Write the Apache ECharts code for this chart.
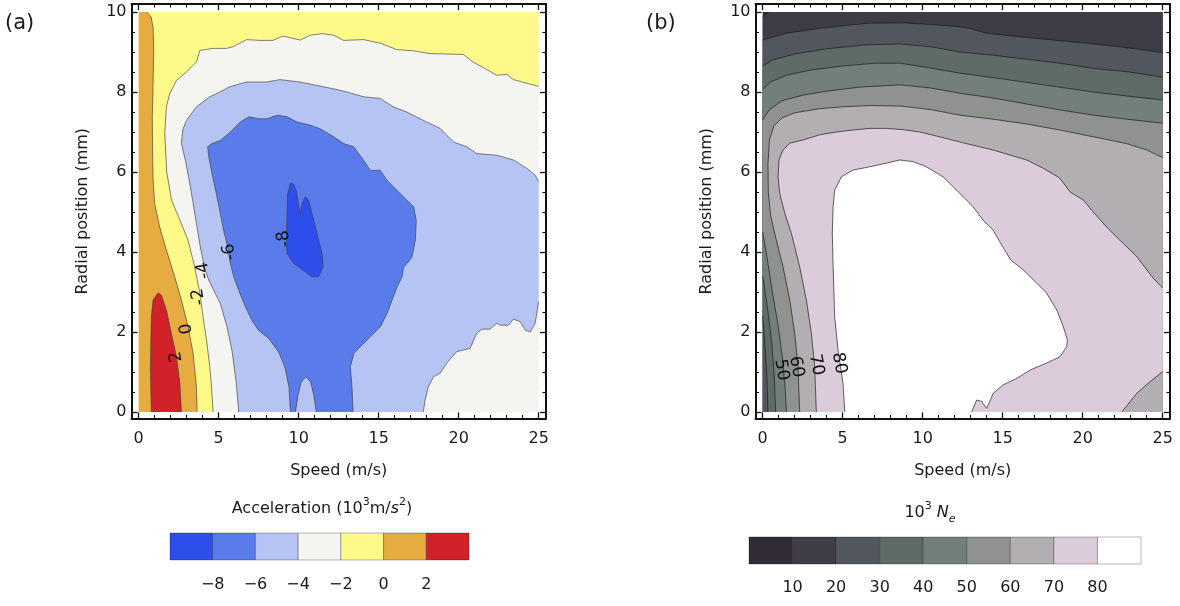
<!DOCTYPE html>
<html><head><meta charset="utf-8">
<script src="https://cdn.jsdelivr.net/npm/echarts@6/dist/echarts.min.js"></script>
<style>html,body{margin:0;padding:0;background:#fff}#c{width:1180px;height:606px}</style>
</head><body><div id="c"></div>
<script>
const FONT = 'DejaVu Sans';
const TXT = '#1a1a1a';
// ---- axis ticks ----
const speedMajor = [0,5,10,15,20,25];
const speedMinor = [1,2,3,4,6,7,8,9,11,12,13,14,16,17,18,19,21,22,23,24];
const radialMajor = [0,2,4,6,8,10];
const radialMinor = [0.5,1,1.5,2.5,3,3.5,4.5,5,5.5,6.5,7,7.5,8.5,9,9.5];

// ---- panel (a): acceleration contours (speed m/s, radial mm) ----
const accContourM2 = [[4.65,0],[4.55,0.63],[4.44,1.13],[4.24,1.8],[4.02,2.38],[3.82,2.97],[3.5,3.63],[3.08,4.3],[2.57,4.8],[2.05,5.3],[1.75,6.0],[1.63,6.97],[1.73,7.63],[1.94,7.96],[2.36,8.29],[2.98,8.5],[3.61,8.75],[3.82,9.04],[4.65,9.09],[5.49,9.09],[5.88,9.13],[6.74,9.31],[7.57,9.29],[8.39,9.29],[9.01,9.4],[9.64,9.34],[10.1,9.3],[10.73,9.42],[11.46,9.46],[12.19,9.42],[12.81,9.29],[14.06,9.31],[15.1,9.22],[16.13,9.06],[17.16,9.03],[18.21,8.96],[20.28,8.94],[20.9,8.75],[22.38,8.42],[23.01,8.44],[23.42,8.31],[25,8.14]];
const accContour0 = [[3.65,0],[3.61,0.63],[3.4,1.47],[3.09,2.13],[2.67,2.8],[2.25,3.38],[1.73,4.05],[1.31,4.63],[1.0,5.2],[0.9,5.8],[0.87,6.5],[0.85,7.37],[0.9,8.21],[0.94,9.04],[0.9,9.62],[0.77,9.88],[0.5,10]];
const accContour2 = [[0.79,0],[0.73,1.13],[0.79,2.38],[0.9,2.8],[1.21,2.98],[1.42,2.92],[1.73,2.55],[2.04,1.97],[2.36,1.38],[2.57,0.72],[2.67,0]];
const accContourM4a = [[6.25,0],[6.1,0.71],[5.83,1.54],[5.52,2.13],[5.1,2.71],[4.69,3.04],[4.38,3.29],[4.1,3.63],[3.85,4.13],[3.54,4.88],[3.23,5.63],[2.92,6.29],[2.67,6.71],[2.75,7.05],[2.98,7.29],[3.61,7.63],[4.44,7.88],[5.07,8.0],[5.69,8.13],[6.74,8.25],[7.99,8.25],[8.82,8.31],[9.45,8.28],[10.08,8.25],[11.56,8.13],[12.4,8.06],[13.02,8.0],[14.06,7.88],[15.08,7.84],[15.91,7.63],[16.75,7.5],[17.79,7.29],[18.84,7.09],[19.67,6.75],[20.51,6.63],[21.13,6.46],[22.38,6.42],[23.42,6.3],[24.26,6.09],[24.78,5.92],[25,5.75]];
const accContourM4b = [[25,2.76],[24.78,2.22],[24.47,2.0],[24.16,2.05],[23.84,2.26],[23.42,2.32],[23.11,2.17],[22.59,2.17],[22.38,2.22],[21.96,2.07],[21.45,2.07],[21.13,1.97],[20.71,1.59],[20.29,1.55],[19.88,1.51],[19.25,1.22],[18.84,0.97],[18.42,0.88],[18.1,0.63],[17.9,0.3],[17.79,0]];
const accContourM6 = [[9.48,0],[9.4,0.6],[9.15,1.1],[8.75,1.5],[8.1,1.85],[7.5,2.04],[7.08,2.29],[6.67,2.63],[6.25,3.04],[5.94,3.38],[5.73,3.71],[5.56,4.13],[5.35,4.46],[5.1,4.96],[4.85,5.46],[4.58,5.96],[4.38,6.38],[4.31,6.63],[4.58,6.71],[5.1,6.79],[5.73,7.0],[6.35,7.25],[6.88,7.38],[7.5,7.33],[8.02,7.33],[8.65,7.42],[9.27,7.38],[9.9,7.25],[10.73,7.17],[11.35,7.08],[12.19,6.88],[12.81,6.71],[13.44,6.63],[14.06,6.29],[14.48,6.04],[15.1,6.04],[15.52,5.79],[16.15,5.54],[16.77,5.29],[17.19,5.13],[17.35,4.79],[17.29,4.29],[17.08,3.88],[16.77,3.71],[16.56,3.63],[16.46,3.38],[16.15,3.13],[15.83,2.79],[15.52,2.46],[15.1,2.13],[14.48,1.88],[13.85,1.63],[13.44,1.46],[13.23,1.13],[13.33,0.63],[13.4,0],[11.1,0],[10.95,0.4],[10.75,0.75],[10.45,0.88],[10.15,0.75],[9.95,0.4],[9.8,0]];
const accContourM8 = [[9.48,5.71],[9.31,5.46],[9.27,4.88],[9.23,4.46],[9.27,3.96],[9.69,3.71],[10.31,3.54],[10.83,3.38],[11.25,3.38],[11.52,3.63],[11.46,3.96],[11.25,4.29],[11.04,4.63],[10.83,4.96],[10.63,5.29],[10.42,5.38],[10.21,5.21],[10.1,4.96],[10.0,5.13],[9.85,5.54],[9.65,5.71]];
const accLabelPos = [[9.1,4.33],[5.69,4.0],[4.06,3.54],[3.75,2.88],[2.98,2.08],[2.35,1.38]];
const accLabelText = ['-8','-6','-4','-2','0','2'];
const accLevels = [-10,-8,-6,-4,-2,0,2,4];
const accTickLabels = [-8,-6,-4,-2,0,2];
const accColors = ['#2e4eec','#5a7bea','#b5c4f3','#f4f5f0','#fdfa8a','#e6ab41','#d22229'];

// ---- panel (b): 10^3 Ne contours ----
const neContour10 = [[0.35,10],[0,9.88]];
const neContour20 = [[0,9.3],[1.48,9.47],[3.56,9.59],[5.5,9.68],[6.69,9.72],[8.77,9.73],[10.85,9.68],[12.33,9.63],[12.94,9.59],[13.98,9.47],[16.06,9.38],[18.15,9.3],[20.23,9.22],[22.31,9.13],[24.4,9.02],[25,8.98]];
const neContour30 = [[0,8.65],[0.6,8.8],[2,8.95],[4,9.08],[6.5,9.18],[8.6,9.2],[10.5,9.13],[12.33,9.0],[14.41,8.92],[16.5,8.82],[18.58,8.72],[20.66,8.59],[22.75,8.51],[25,8.37]];
const neContour30b = [[0,2.4],[0.15,1.6],[0.27,0.8],[0.33,0]];
const neContour40 = [[0,8.07],[0.5,8.25],[1.5,8.42],[3,8.55],[5,8.65],[7,8.72],[8.6,8.72],[10.5,8.6],[12.33,8.47],[14.41,8.36],[16.5,8.24],[18.58,8.12],[20.66,8.0],[22.75,7.9],[25,7.8]];
const neContour40b = [[0,3.4],[0.3,2.6],[0.55,1.8],[0.72,0.9],[0.81,0]];
const neContour50 = [[0,7.3],[0.4,7.55],[1.2,7.78],[2.5,7.92],[4,8.02],[6,8.12],[8.6,8.18],[10.5,8.1],[12.33,7.97],[14.4,7.85],[16.5,7.7],[18.6,7.55],[20.7,7.42],[22.75,7.32],[25,7.22]];
const neContour50b = [[0,4.5],[0.3,3.8],[0.6,3.0],[0.95,2.2],[1.25,1.3],[1.4,0.6],[1.48,0]];
const neContour60 = [[2.31,0],[2.21,1.13],[2.0,1.97],[1.69,2.8],[1.27,3.63],[0.85,4.3],[0.5,4.9],[0.35,5.5],[0.33,6.2],[0.42,6.8],[0.7,7.15],[1.2,7.35],[2,7.48],[3.5,7.58],[5,7.63],[6.7,7.66],[8.6,7.65],[10.5,7.56],[12.33,7.42],[14.41,7.32],[16.5,7.2],[18.58,7.05],[20.66,6.88],[22.75,6.71],[24,6.55],[25,6.36]];
const neContour70 = [[3.35,0],[3.25,1.13],[3.04,1.97],[2.73,2.8],[2.31,3.63],[1.79,4.47],[1.38,4.97],[1.06,5.47],[0.96,5.88],[1.02,6.3],[1.27,6.55],[1.69,6.72],[2.52,6.8],[3.56,6.93],[4.6,7.0],[5.65,7.05],[6.69,7.09],[7.73,7.09],[8.77,7.06],[9.81,7.0],[11.06,6.88],[12.31,6.75],[13.56,6.63],[14.4,6.55],[15.65,6.4],[16.5,6.3],[17.5,6.1],[18.56,5.85],[19.21,5.5],[20.04,5.3],[20.66,5.0],[21.48,4.63],[22.31,4.3],[23.35,3.9],[24.4,3.35],[25,3.1]];
const neContour70b = [[22.44,0],[23.38,0.47],[24.21,0.76],[25,1.01]];
const neContour80 = [[5.13,0],[5.02,0.72],[4.71,1.55],[4.5,2.38],[4.4,3.63],[4.35,4.47],[4.4,5.13],[4.5,5.55],[4.92,5.88],[5.65,6.05],[6.69,6.13],[7.73,6.22],[8.56,6.3],[9.4,6.26],[10.23,6.13],[11.27,5.88],[12.31,5.47],[13.15,5.13],[13.77,4.8],[14.4,4.55],[14.9,4.2],[15.5,3.8],[16.29,3.55],[17.13,3.22],[17.75,2.97],[18.38,2.55],[18.79,2.13],[19.04,1.8],[19.0,1.63],[18.58,1.38],[17.73,1.22],[16.71,1.05],[15.88,0.84],[15.04,0.68],[14.41,0.47],[14.0,0.09],[13.69,0.26],[13.37,0.3],[13.06,0]];
const neLabelPos = [[1.17,1.05],[2.1,1.13],[3.35,1.18],[4.77,1.22]];
const neLabelText = ['50','60','70','80'];
const neLevels = [0,10,20,30,40,50,60,70,80,90];
const neTickLabels = [10,20,30,40,50,60,70,80];
const neColors = ['#312c35','#3e3c46','#52565e','#5e6b66','#737f79','#8f928f','#b3aeb1','#dccbdb','#ffffff'];

// ---- helpers ----
const XMIN=0, XMAX=25, YMIN=0, YMAX=10;
const rev = a => a.slice().reverse();
const onEdge = (a,b) => (a[0]<=XMIN&&b[0]<=XMIN)||(a[0]>=XMAX&&b[0]>=XMAX)||(a[1]<=YMIN&&b[1]<=YMIN)||(a[1]>=YMAX&&b[1]>=YMAX);

function region(panel, pts, fill, lineColor){
  return {
    type:'custom', xAxisIndex: panel*4, yAxisIndex: panel*4, data: pts, silent:true, clip:true, animation:false,
    encode:{x:0,y:1},
    renderItem(params, api){
      if (params.dataIndex !== 0) return null;
      const n = pts.length;
      const px = pts.map(p => api.coord(p));
      const children = [{type:'polygon', shape:{points:px}, style:{fill:fill, stroke:null}}];
      let run = null;
      for (let i=0;i<n;i++){
        const a = pts[i], b = pts[(i+1)%n];
        if (onEdge(a,b)) { if (run){ children.push(line(run)); run=null; } continue; }
        if (!run) run=[px[i]];
        run.push(px[(i+1)%n]);
      }
      if (run) children.push(line(run));
      function line(r){ return {type:'polyline', shape:{points:r}, style:{stroke:lineColor, lineWidth:0.8, fill:null}}; }
      return {type:'group', children};
    }
  };
}
function labels(panel, pos, texts, rotDeg){
  return {
    type:'custom', xAxisIndex: panel*4, yAxisIndex: panel*4, data: pos, silent:true, animation:false, z:5,
    encode:{x:0,y:1},
    renderItem(params, api){
      const p = api.coord([api.value(0), api.value(1)]);
      return {type:'text', x:p[0], y:p[1], rotation: rotDeg*Math.PI/180,
        style:{text:texts[params.dataIndex], x:0, y:0, align:'center', verticalAlign:'middle', textAlign:'center', textVerticalAlign:'middle', font:`17px "${FONT}"`, fill:'#111'}};
    }
  };
}
function colorbar(axisIdx, levels, colors){
  const data = colors.map((c,i)=>[levels[i], levels[i+1], i]);
  return {
    type:'custom', xAxisIndex: axisIdx, yAxisIndex: axisIdx, data, silent:true, animation:false,
    encode:{x:[0,1]},
    renderItem(params, api){
      const p0 = api.coord([api.value(0), 1]);
      const p1 = api.coord([api.value(1), 0]);
      return {type:'rect', shape:{x:p0[0], y:p0[1], width:p1[0]-p0[0], height:p1[1]-p0[1]},
        style:{fill: colors[api.value(2)], stroke:'rgba(0,0,0,0.28)', lineWidth:1}};
    }
  };
}
const tickStyle = w => ({color:'#111', width:w});
function xAxesFor(g){
  const c = {gridIndex:g, type:'value', min:-0.45, max:25.45, splitLine:{show:false}};
  return [
    {...c, position:'bottom', name:'Speed (m/s)', nameLocation:'middle', nameGap:44,
      nameTextStyle:{fontFamily:FONT, fontSize:16, color:TXT},
      axisLine:{show:true, onZero:false, lineStyle:tickStyle(2)},
      axisTick:{show:true, inside:true, length:6, customValues:speedMajor, lineStyle:tickStyle(1.3)},
      axisLabel:{show:true, customValues:speedMajor, margin:12, fontFamily:FONT, fontSize:16, color:TXT}},
    {...c, position:'bottom', axisLine:{show:false, onZero:false},
      axisTick:{show:true, inside:true, length:3.5, customValues:speedMinor, lineStyle:tickStyle(1.1)}, axisLabel:{show:false}},
    {...c, position:'top', axisLine:{show:true, onZero:false, lineStyle:tickStyle(2)},
      axisTick:{show:true, inside:true, length:6, customValues:speedMajor, lineStyle:tickStyle(1.3)}, axisLabel:{show:false}},
    {...c, position:'top', axisLine:{show:false, onZero:false},
      axisTick:{show:true, inside:true, length:3.5, customValues:speedMinor, lineStyle:tickStyle(1.1)}, axisLabel:{show:false}}
  ];
}
function yAxesFor(g){
  const c = {gridIndex:g, type:'value', min:-0.16, max:10.2, splitLine:{show:false}};
  return [
    {...c, position:'left', name:'Radial position (mm)', nameLocation:'middle', nameGap:41,
      nameTextStyle:{fontFamily:FONT, fontSize:16, color:TXT},
      axisLine:{show:true, onZero:false, lineStyle:tickStyle(2)},
      axisTick:{show:true, inside:true, length:6, customValues:radialMajor, lineStyle:tickStyle(1.3)},
      axisLabel:{show:true, customValues:radialMajor, margin:5, fontFamily:FONT, fontSize:16, color:TXT}},
    {...c, position:'left', axisLine:{show:false, onZero:false},
      axisTick:{show:true, inside:true, length:3.5, customValues:radialMinor, lineStyle:tickStyle(1.1)}, axisLabel:{show:false}},
    {...c, position:'right', axisLine:{show:true, onZero:false, lineStyle:tickStyle(2)},
      axisTick:{show:true, inside:true, length:6, customValues:radialMajor, lineStyle:tickStyle(1.3)}, axisLabel:{show:false}},
    {...c, position:'right', axisLine:{show:false, onZero:false},
      axisTick:{show:true, inside:true, length:3.5, customValues:radialMinor, lineStyle:tickStyle(1.1)}, axisLabel:{show:false}}
  ];
}
const fmtMinus = v => String(v).replace('-', '\u2212');

const A_LINE = 'rgba(60,60,60,0.8)';
const B_LINE = 'rgba(25,25,25,0.85)';
const full = [[0,0],[25,0],[25,10],[0,10]];

const series = [
  // panel a
  region(0, full, accColors[3], A_LINE),
  region(0, [[0,0], ...accContourM2, [25,10],[0,10]], accColors[4], A_LINE),
  region(0, [[0,0], ...accContour0, [0,10]], accColors[5], A_LINE),
  region(0, accContour2, accColors[6], A_LINE),
  region(0, [...accContourM4a, ...accContourM4b], accColors[2], A_LINE),
  region(0, accContourM6, accColors[1], A_LINE),
  region(0, accContourM8, accColors[0], A_LINE),
  labels(0, accLabelPos, accLabelText, 100),
  // panel b
  region(1, full, neColors[0], B_LINE),
  region(1, [[0,0],[25,0],[25,10], ...neContour10], neColors[1], B_LINE),
  region(1, [...neContour20, [25,0],[0,0]], neColors[2], B_LINE),
  region(1, [...neContour30, [25,0], ...rev(neContour30b)], neColors[3], B_LINE),
  region(1, [...neContour40, [25,0], ...rev(neContour40b)], neColors[4], B_LINE),
  region(1, [...neContour50, [25,0], ...rev(neContour50b)], neColors[5], B_LINE),
  region(1, [...neContour60, [25,0]], neColors[6], B_LINE),
  region(1, [...neContour70, ...rev(neContour70b)], neColors[7], B_LINE),
  region(1, neContour80, neColors[8], B_LINE),
  labels(1, neLabelPos, neLabelText, -80),
  // colorbars
  colorbar(8, accLevels, accColors),
  colorbar(9, neLevels, neColors)
];

const option = {
  animation:false,
  backgroundColor:'#fff',
  grid:[
    {left:131.5, top:4, width:414.4, height:414.4},
    {left:755.5, top:4, width:414.4, height:414.4},
    {left:170, top:533, width:299, height:27},
    {left:749, top:537, width:392, height:27}
  ],
  xAxis:[...xAxesFor(0), ...xAxesFor(1),
    {gridIndex:2, type:'value', min:accLevels[0], max:accLevels[accLevels.length-1], axisLine:{show:false}, axisTick:{show:false}, splitLine:{show:false},
      axisLabel:{customValues:accTickLabels, formatter:fmtMinus, margin:17, fontFamily:FONT, fontSize:16, color:TXT}},
    {gridIndex:3, type:'value', min:neLevels[0], max:neLevels[neLevels.length-1], axisLine:{show:false}, axisTick:{show:false}, splitLine:{show:false},
      axisLabel:{customValues:neTickLabels, margin:16, fontFamily:FONT, fontSize:16, color:TXT}}
  ],
  yAxis:[...yAxesFor(0), ...yAxesFor(1),
    {gridIndex:2, type:'value', min:0, max:1, show:false},
    {gridIndex:3, type:'value', min:0, max:1, show:false}
  ],
  graphic:[
    {type:'text', left:5, top:13, style:{text:'(a)', font:`21px "${FONT}"`, fill:TXT}},
    {type:'text', left:646, top:13, style:{text:'(b)', font:`21px "${FONT}"`, fill:TXT}},
    {type:'text', x:322, y:509, style:{
      text:'{n|Acceleration (10}{s|3}{n|m/}{i|s}{s|2}{n|)}',
      align:'center', verticalAlign:'middle', textAlign:'center', textVerticalAlign:'middle',
      rich:{
        n:{fontFamily:FONT, fontSize:16, lineHeight:24, fill:TXT, color:TXT},
        i:{fontFamily:FONT, fontSize:16, lineHeight:24, fontStyle:'italic', fill:TXT, color:TXT},
        s:{fontFamily:FONT, fontSize:11, verticalAlign:'top', fill:TXT, color:TXT}
      }}},
    {type:'text', x:930, y:513, style:{
      text:'{n|10}{s|3}{n| }{i|N}{b|e}',
      align:'center', verticalAlign:'middle', textAlign:'center', textVerticalAlign:'middle',
      rich:{
        n:{fontFamily:FONT, fontSize:16, lineHeight:24, fill:TXT, color:TXT},
        i:{fontFamily:FONT, fontSize:16, lineHeight:24, fontStyle:'italic', fill:TXT, color:TXT},
        s:{fontFamily:FONT, fontSize:11, verticalAlign:'top', fill:TXT, color:TXT},
        b:{fontFamily:FONT, fontSize:11, fontStyle:'italic', verticalAlign:'bottom', fill:TXT, color:TXT}
      }}}
  ],
  series
};
const chart = echarts.init(document.getElementById('c'), null, {renderer:'canvas'});
chart.setOption(option);
</script>
</body></html>
